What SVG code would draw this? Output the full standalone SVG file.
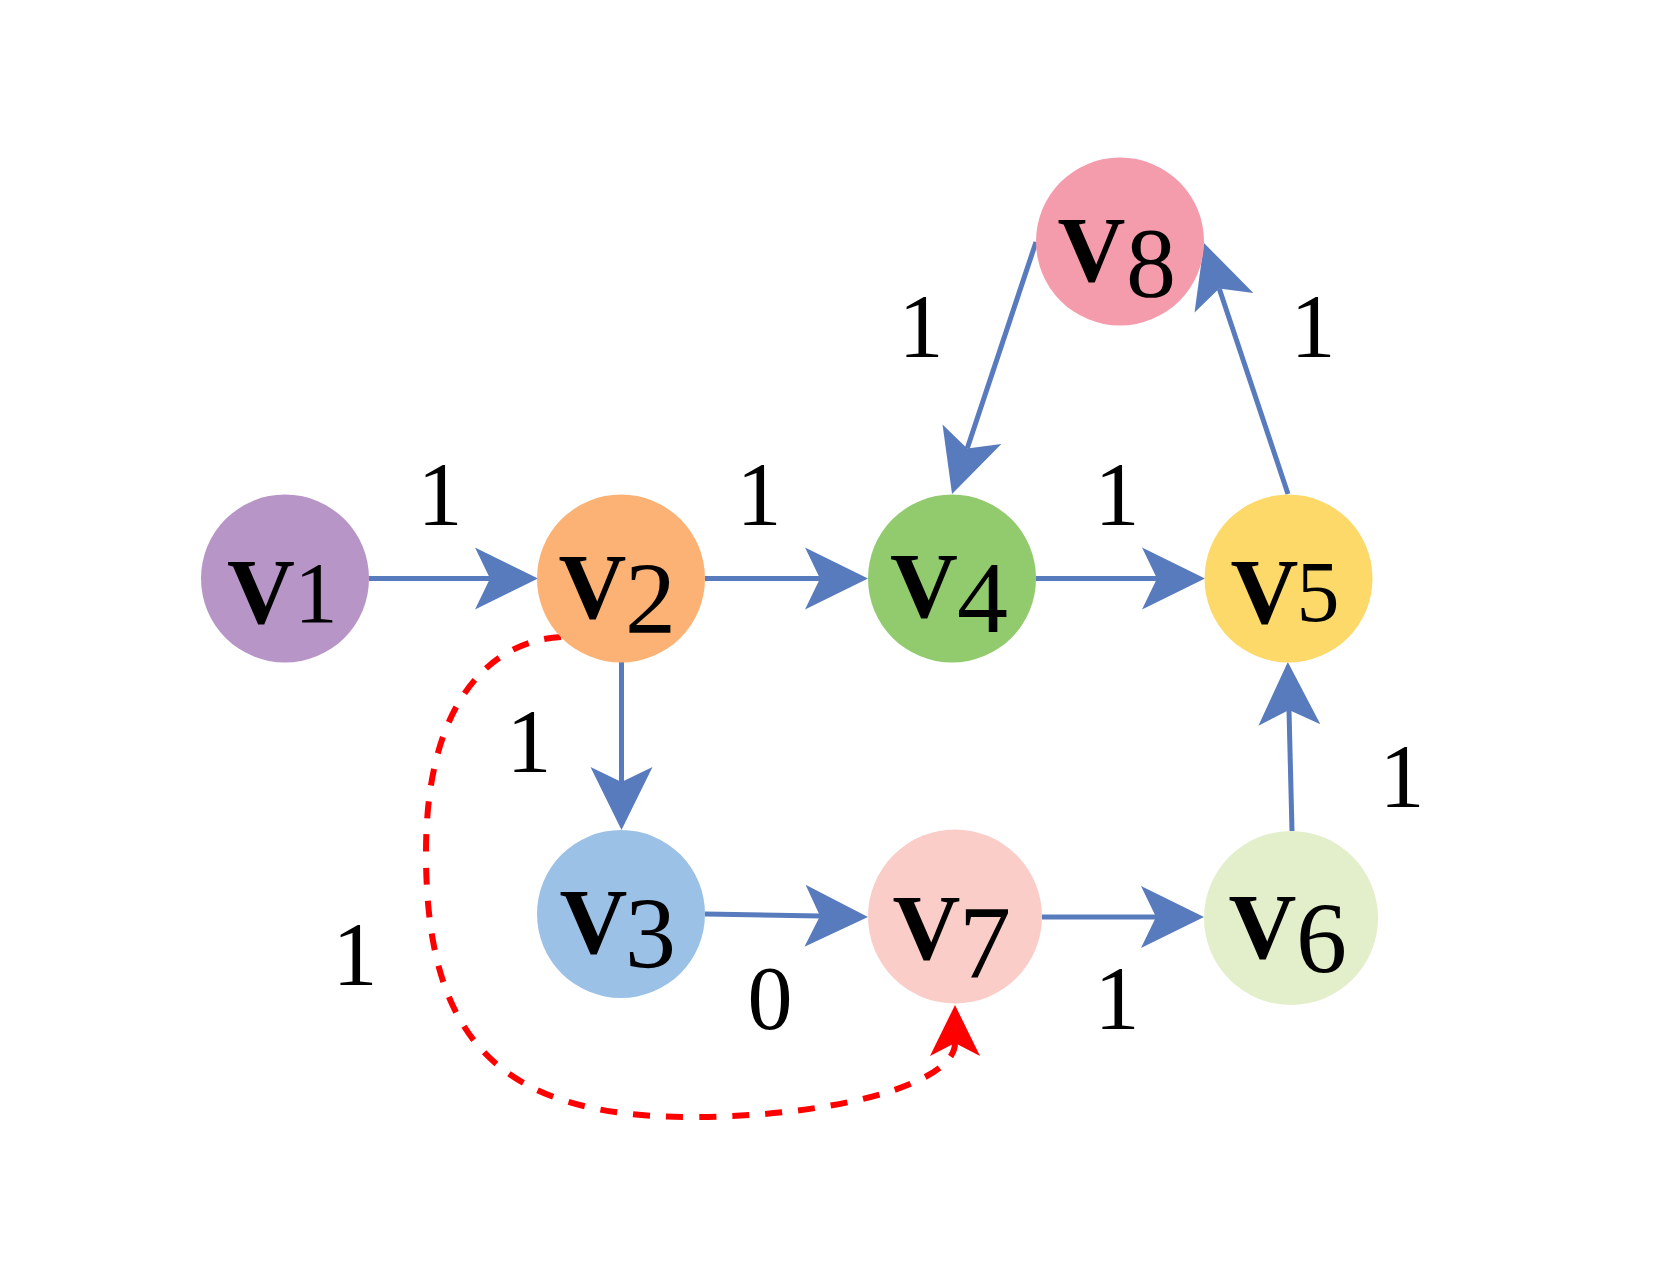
<svg xmlns="http://www.w3.org/2000/svg" width="1660" height="1274" viewBox="0 0 1660 1274">
<style>
.edge{stroke:#587BBD;stroke-width:5;fill:none}
.dash{stroke:#FF0000;stroke-width:6;fill:none;stroke-dasharray:17 16}
.v{font-family:"Liberation Serif","Times New Roman",serif;font-weight:bold;font-size:94px;fill:#000;text-anchor:middle}
.d{font-family:"Liberation Serif","Times New Roman",serif;font-size:102px;fill:#000;text-anchor:middle}
.lbl{font-family:"Liberation Serif","Times New Roman",serif;font-size:90px;fill:#000;text-anchor:middle}
</style>
<defs>
<marker id="arr" viewBox="-63 -32 63 64" refX="-48" refY="0" markerWidth="63" markerHeight="64" markerUnits="userSpaceOnUse" orient="auto">
<path d="M0,0 L-63,-31 L-48,0 L-63,31 Z" fill="#587BBD"/>
</marker>
<marker id="arrRed" viewBox="-51 -26 51 52" refX="-38" refY="0" markerWidth="51" markerHeight="52" markerUnits="userSpaceOnUse" orient="auto">
<path d="M0,0 L-51,-25 L-38,0 L-51,25 Z" fill="#FF0000"/>
</marker>
</defs>
<rect width="1660" height="1274" fill="#FFFFFF"/>
<g id="connectors">
<line class="edge" x1="369" y1="578.5" x2="490" y2="578.5" marker-end="url(#arr)"/>
<line class="edge" x1="705" y1="578.5" x2="820" y2="578.5" marker-end="url(#arr)"/>
<line class="edge" x1="1036" y1="578.5" x2="1157" y2="578.5" marker-end="url(#arr)"/>
<line class="edge" x1="621.5" y1="662" x2="621.5" y2="782" marker-end="url(#arr)"/>
<line class="edge" x1="705" y1="914" x2="820" y2="916.1" marker-end="url(#arr)"/>
<line class="edge" x1="1042" y1="917" x2="1156" y2="917" marker-end="url(#arr)"/>
<line class="edge" x1="1292" y1="831" x2="1289" y2="710" marker-end="url(#arr)"/>
<line class="edge" x1="1288" y1="494" x2="1219.2" y2="288.5" marker-end="url(#arr)"/>
<line class="edge" x1="1036" y1="242" x2="967.2" y2="448.5" marker-end="url(#arr)"/>
<path class="dash" d="M561,637 C500,640 426,690 426,853 C426,1040 500,1117 691,1117 C830,1117 955,1085 955,1043" marker-end="url(#arrRed)"/>
</g>
<g id="V1"><circle cx="285" cy="578.5" r="84" fill="#B795C6"/><text class="v" x="261" y="623">V</text><text class="d" x="316" y="622" style="font-size:86px">1</text></g>
<g id="V2"><circle cx="621" cy="578.5" r="84" fill="#FBB274"/><text class="v" x="592.5" y="618">V</text><text class="d" x="650.5" y="633">2</text></g>
<g id="V4"><circle cx="952" cy="578.5" r="84" fill="#92CB6E"/><text class="v" x="924" y="617">V</text><text class="d" x="982.5" y="632">4</text></g>
<g id="V5"><circle cx="1288.5" cy="578.5" r="84" fill="#FDD96A"/><text class="v" x="1264.5" y="623">V</text><text class="d" x="1318" y="621" style="font-size:86px">5</text></g>
<g id="V8"><circle cx="1120" cy="241.5" r="84" fill="#F49CAC"/><text class="v" x="1091.5" y="281">V</text><text class="d" x="1151" y="296" style="font-size:100px">8</text></g>
<g id="V3"><circle cx="621" cy="914" r="84" fill="#9CC1E6"/><text class="v" x="593.5" y="953">V</text><text class="d" x="650.5" y="968">3</text></g>
<g id="V7"><circle cx="955" cy="916.5" r="87" fill="#FACDC8"/><text class="v" x="926.5" y="959">V</text><text class="d" x="985" y="977" style="font-size:104px">7</text></g>
<g id="V6"><circle cx="1291" cy="918" r="87" fill="#E3EECA"/><text class="v" x="1262.5" y="958">V</text><text class="d" x="1321.5" y="973">6</text></g>
<g id="labels">
<text class="lbl" x="440" y="525">1</text>
<text class="lbl" x="759" y="525">1</text>
<text class="lbl" x="1117" y="525">1</text>
<text class="lbl" x="921" y="357">1</text>
<text class="lbl" x="1313" y="357">1</text>
<text class="lbl" x="529" y="772">1</text>
<text class="lbl" x="770" y="1029">0</text>
<text class="lbl" x="355" y="985">1</text>
<text class="lbl" x="1117" y="1029">1</text>
<text class="lbl" x="1402" y="807">1</text>
</g>
</svg>
